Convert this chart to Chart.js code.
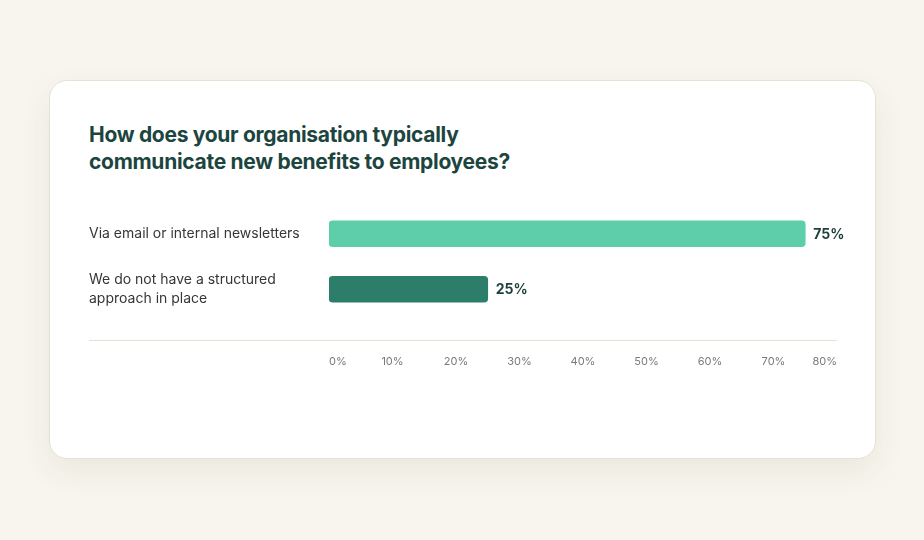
<!DOCTYPE html>
<html>
<head>
<meta charset="utf-8">
<script src="https://cdn.jsdelivr.net/npm/chart.js@4"></script>
<style>
  html, body { margin: 0; padding: 0; }
  body { width: 924px; height: 540px; background: #f8f5ee; font-family: Inter, "Noto Sans", sans-serif; position: relative; overflow: hidden; }
  .card { position: absolute; left: 49px; top: 80px; width: 825px; height: 377px; background: #fff; border: 1px solid #e6e2d3; border-radius: 18px; box-shadow: 0 12px 32px rgba(60, 50, 20, 0.07); }
  .card h2 { position: absolute; left: 39px; top: 40px; margin: 0; font-size: 21px; line-height: 27px; font-weight: 700; color: #1d4540; letter-spacing: -0.3px; }
  .chart-wrap { position: absolute; left: 39px; top: 119px; width: 760px; height: 190px; }
</style>
</head>
<body>
<div class="card">
  <h2>How does your organisation typically<br>communicate new benefits to employees?</h2>
  <div class="chart-wrap"><canvas id="chart"></canvas></div>
</div>
<script>
const categories = [
  'Via email or internal newsletters',
  ['We do not have a structured', 'approach in place']
];
const values = [75, 25];
const barColors = ['#5ecdaa', '#2c7d69'];
const tickValues = [0, 10, 20, 30, 40, 50, 60, 70, 80];

// value labels at the end of each bar
const valueLabels = {
  id: 'valueLabels',
  afterDatasetsDraw(chart) {
    const ctx = chart.ctx;
    const meta = chart.getDatasetMeta(0);
    ctx.save();
    ctx.font = '700 14px Inter, sans-serif';
    ctx.fillStyle = '#1e3f3a';
    ctx.textAlign = 'left';
    ctx.textBaseline = 'middle';
    meta.data.forEach((bar, i) => {
      ctx.fillText(values[i] + '%', bar.x + 8, bar.y + 1);
    });
    ctx.restore();
  }
};

// divider line across the whole chart width
const divider = {
  id: 'divider',
  afterDraw(chart) {
    const ctx = chart.ctx;
    const y = Math.round(chart.chartArea.bottom + 23) + 0.5;
    ctx.save();
    ctx.strokeStyle = '#e6e2d0';
    ctx.lineWidth = 1;
    ctx.beginPath();
    ctx.moveTo(0, y);
    ctx.lineTo(chart.chartArea.right, y);
    ctx.stroke();
    ctx.restore();
  }
};

new Chart(document.getElementById('chart'), {
  type: 'bar',
  data: {
    labels: categories,
    datasets: [{
      data: values,
      backgroundColor: barColors,
      borderRadius: 4,
      borderSkipped: false,
      barThickness: 26
    }]
  },
  options: {
    indexAxis: 'y',
    responsive: true,
    maintainAspectRatio: false,
    animation: false,
    layout: { padding: { top: 6, right: 12, bottom: 17, left: 0 } },
    plugins: { legend: { display: false }, tooltip: { enabled: false } },
    scales: {
      x: {
        min: 0,
        max: 80,
        afterBuildTicks(scale) { scale.ticks = tickValues.map(v => ({ value: v })); },
        afterFit(scale) {
          scale.height = 56;
          scale.paddingLeft = 0;
          scale.paddingRight = 0;
        },
        grid: { display: false, drawTicks: false },
        border: { display: false },
        ticks: {
          padding: 38,
          align: 'inner',
          color: '#7a7a7a',
          font: { family: 'Inter', size: 11 },
          callback: v => v + '%'
        }
      },
      y: {
        afterFit(scale) {
          scale.width = 240;
          scale.paddingTop = 0;
          scale.paddingBottom = 0;
        },
        grid: { display: false, drawTicks: false },
        border: { display: false },
        ticks: {
          autoSkip: false,
          crossAlign: 'far',
          color: '#363636',
          font: { family: 'Inter', size: 14, lineHeight: 1.36 }
        }
      }
    }
  },
  plugins: [valueLabels, divider]
});
</script>
</body>
</html>
